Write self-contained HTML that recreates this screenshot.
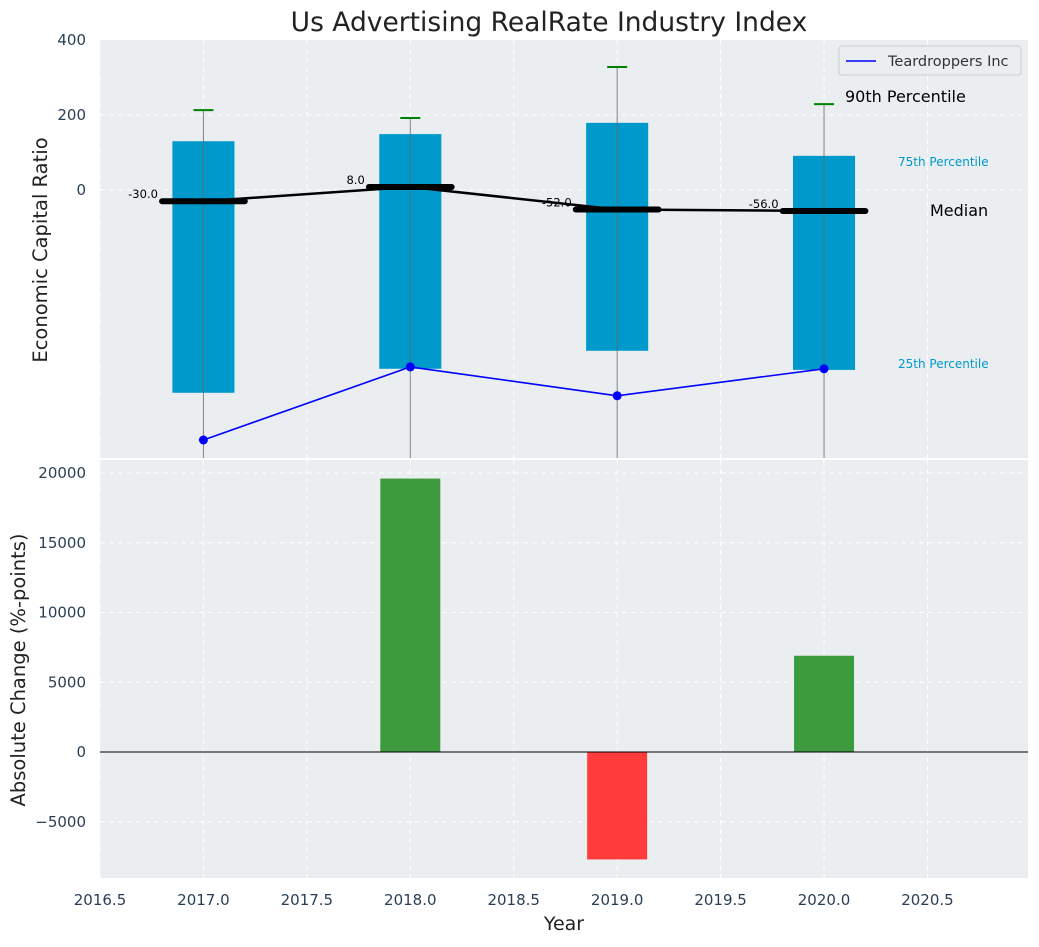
<!DOCTYPE html>
<html><head><meta charset="utf-8"><style>
body{margin:0;background:#fff;font-family:"Liberation Sans","DejaVu Sans",sans-serif}
</style></head><body>
<svg id="c" width="1039" height="942" xmlns="http://www.w3.org/2000/svg" font-family="DejaVu Sans, Liberation Sans, sans-serif"></svg>
<script>
const years=[2017,2018,2019,2020];
const q75=[130,149,179,91];
const q25=[-541,-477,-429,-480];
const p90=[213,192,328,229];
const medians=[-30,8,-52,-56];
const company=[-667,-472,-549,-477];
const changes=[0,19600,-7700,6900];
const xTicks=[2016.5,2017,2017.5,2018,2018.5,2019,2019.5,2020,2020.5];
const yTopTicks=[0,200,400];
const yBotTicks=[-5000,0,5000,10000,15000,20000];

const svg=document.getElementById('c');const NS='http://www.w3.org/2000/svg';
function el(t,a,txt){const e=document.createElementNS(NS,t);for(const k in a)e.setAttribute(k,a[k]);if(txt!==undefined)e.textContent=txt;svg.appendChild(e);return e;}
const L=100,R=1028;
const X=v=>L+(v-2016.5)/(2020.986-2016.5)*(R-L);
const T0=40,T1=458,Y=v=>T0+(400-v)/(400+715)*(T1-T0);
const B0=460,B1=878,YB=v=>B0+(20932-v)/(20932+9032)*(B1-B0);

let e;
e=el('rect',{x:L,y:T0,width:R-L,height:T1-T0,fill:'#eaeef0'});

e=el('rect',{x:L,y:B0,width:R-L,height:B1-B0,fill:'#eaeef0'});

xTicks.forEach(t=>{[[T0,T1],[B0,B1]].forEach(r=>{e=el('line',{x1:X(t),x2:X(t),y1:r[0],y2:r[1],stroke:'#fff','stroke-dasharray':'5,4','stroke-width':1});});});
[0,200].forEach(t=>{e=el('line',{x1:L,x2:R,y1:Y(t),y2:Y(t),stroke:'#fff','stroke-dasharray':'5,4'});});
yBotTicks.forEach(t=>{e=el('line',{x1:L,x2:R,y1:YB(t),y2:YB(t),stroke:'#fff','stroke-dasharray':'5,4'});});
years.forEach((y,i)=>{
 e=el('rect',{x:X(y-0.15),y:Y(q75[i]),width:X(y+0.15)-X(y-0.15),height:Y(q25[i])-Y(q75[i]),fill:'#0099cc'});
 
 e=el('line',{x1:X(y),x2:X(y),y1:Y(p90[i]),y2:T1,stroke:'#666','stroke-width':1,opacity:0.8});
 
 e=el('line',{x1:X(y)-10,x2:X(y)+10,y1:Y(p90[i]),y2:Y(p90[i]),stroke:'green','stroke-width':2});
 
});
e=el('polyline',{points:years.map((y,i)=>X(y)+','+Y(medians[i])).join(' '),fill:'none',stroke:'#000','stroke-width':2.5});

years.forEach((y,i)=>{
 e=el('line',{x1:X(y-0.2),x2:X(y+0.2),y1:Y(medians[i]),y2:Y(medians[i]),stroke:'#000','stroke-width':6,'stroke-linecap':'round'});
 
 e=el('text',{x:X(y-0.22),y:Y(medians[i])-3,'font-size':11.5,'text-anchor':'end',fill:'#000'},medians[i].toFixed(1));
 
});
e=el('polyline',{points:years.map((y,i)=>X(y)+','+Y(company[i])).join(' '),fill:'none',stroke:'blue','stroke-width':1.6});

years.forEach((y,i)=>{e=el('circle',{cx:X(y),cy:Y(company[i]),r:4.5,fill:'blue'});});
e=el('text',{x:845,y:102,'font-size':16,fill:'#000'},'90th Percentile');
e=el('text',{x:898,y:166,'font-size':12,fill:'#0099cc'},'75th Percentile');
e=el('text',{x:930,y:216,'font-size':16,fill:'#000'},'Median');
e=el('text',{x:898,y:368,'font-size':12,fill:'#0099cc'},'25th Percentile');
e=el('rect',{x:839,y:46,width:182,height:29,fill:'#eaeef0',stroke:'#ccc',rx:3});
e=el('line',{x1:846,x2:876,y1:61,y2:61,stroke:'blue','stroke-width':1.6});
e=el('text',{x:888,y:66,'font-size':14.5,fill:'#333'},'Teardroppers Inc');
years.forEach((y,i)=>{if(!changes[i])return;const v=changes[i];
 e=el('rect',{x:X(y-0.145),y:Math.min(YB(v),YB(0)),width:X(y+0.145)-X(y-0.145),height:Math.abs(YB(v)-YB(0)),fill:v>0?'#3d9b3d':'#ff3b3b'});
 });
e=el('line',{x1:L,x2:R,y1:YB(0),y2:YB(0),stroke:'#000','stroke-width':1});
yTopTicks.forEach(t=>{e=el('text',{x:L-14,y:Y(t)+5,'font-size':15,'text-anchor':'end',fill:'#2a3f55'},t);});
yBotTicks.forEach(t=>{e=el('text',{x:L-14,y:YB(t)+5,'font-size':15,'text-anchor':'end',fill:'#2a3f55'},t<0?'\u2212'+(-t):t);});
xTicks.forEach(t=>{e=el('text',{x:X(t),y:905,'font-size':15,'text-anchor':'middle',fill:'#2a3f55'},t.toFixed(1));});
e=el('text',{x:549,y:31,'font-size':26.5,'text-anchor':'middle',fill:'#222'},'Us Advertising RealRate Industry Index');
e=el('text',{x:564,y:930,'font-size':19,'text-anchor':'middle',fill:'#222'},'Year');
e=el('text',{x:47,y:250,'font-size':19.5,'text-anchor':'middle',fill:'#222',transform:'rotate(-90 47 250)'},'Economic Capital Ratio');
e=el('text',{x:25,y:670,'font-size':19.5,'text-anchor':'middle',fill:'#222',transform:'rotate(-90 25 670)'},'Absolute Change (%-points)');
</script>
</body></html>
